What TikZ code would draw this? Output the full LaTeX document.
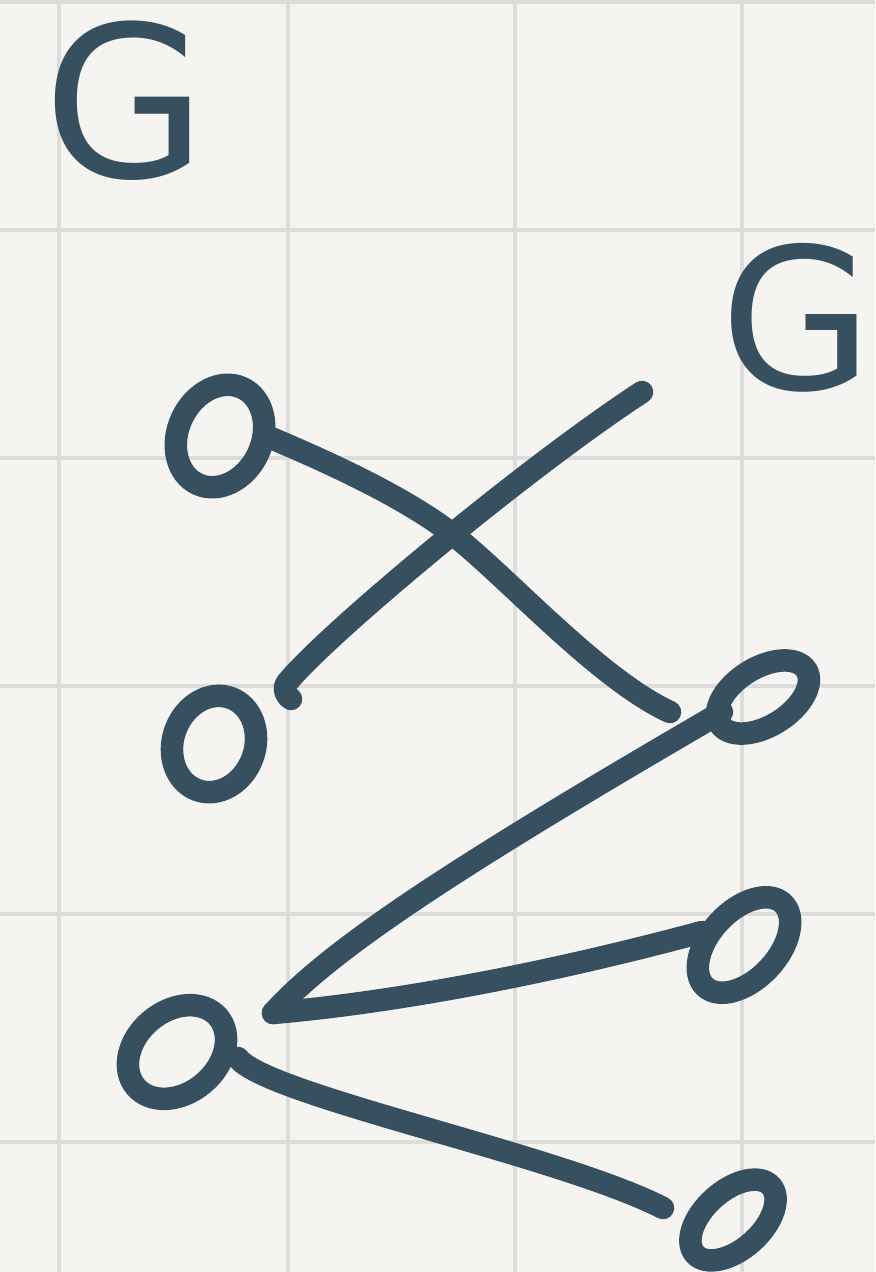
\documentclass[tikz,border=0pt]{standalone}
\usepackage{fontspec}
\setmainfont{DejaVu Sans}
\usetikzlibrary{shapes.geometric}
\definecolor{ink}{RGB}{54,80,95}
\definecolor{paper}{RGB}{245,244,241}
\definecolor{gridc}{RGB}{221,220,218}
\begin{document}
\begin{tikzpicture}[x=0.01cm,y=-0.01cm,
  ring/.style={draw=ink,ellipse,line width=6.4pt,inner sep=0pt,outer sep=0pt},
  stroke/.style={draw=ink,line width=6.4pt,line cap=round,line join=round},
  glyph/.style={text=ink,inner sep=0pt,font=\fontsize{60}{60}\selectfont},
  gridline/.style={draw=gridc,line width=1.4pt}]
\fill[paper] (0,0) rectangle (875,1272);
\useasboundingbox (0,0) rectangle (875,1272);
\foreach \x in {59,288,515,742} \draw[gridline] (\x,0) -- (\x,1272);
\foreach \y in {2,230,458,686,914,1142} \draw[gridline] (0,\y) -- (875,\y);
% labels
\node[glyph] (G1) at (125,101) {G};
\node[glyph,font=\fontsize{56}{56}\selectfont] (G2) at (797,318) {G};
% vertices
\node[ring,minimum width=1.06cm,minimum height=0.84cm,rotate=65] (L1) at (220,436) {};
\node[ring,minimum width=0.98cm,minimum height=0.82cm,rotate=70] (L2) at (214,744) {};
\node[ring,minimum width=1.08cm,minimum height=0.82cm,rotate=40] (L3) at (177,1052) {};
\node[ring,minimum width=1.02cm,minimum height=0.58cm,rotate=32] (R1) at (763,697) {};
\node[ring,minimum width=1.14cm,minimum height=0.68cm,rotate=47] (R2) at (744,945) {};
\node[ring,minimum width=1.02cm,minimum height=0.58cm,rotate=42] (R3) at (733,1220) {};
% stroke ends
\coordinate (a0) at (271,438);
\coordinate (a1) at (456,537);
\coordinate (a2) at (670,712);
\coordinate (b0) at (291,699);
\coordinate (b1) at (642,392);
\coordinate (hub) at (273,1013);
\coordinate (c1) at (722,712);
\coordinate (d1) at (702,932);
\coordinate (e0) at (238,1058);
\coordinate (e1) at (663,1208);
% edges
\draw[stroke] (a0) .. controls (335,465) and (410,500) .. (a1) .. controls (510,580) and (600,680) .. (a2);
\draw[stroke] (b1) .. controls (520,472) and (320,640) .. (286,684) .. controls (283,689) and (286,696) .. (b0);
\draw[stroke] (hub) .. controls (330,950) and (450,870) .. (c1);
\draw[stroke] (hub) .. controls (420,1000) and (580,965) .. (d1);
\draw[stroke] (e0) .. controls (265,1095) and (560,1155) .. (e1);
\end{tikzpicture}
\end{document}
